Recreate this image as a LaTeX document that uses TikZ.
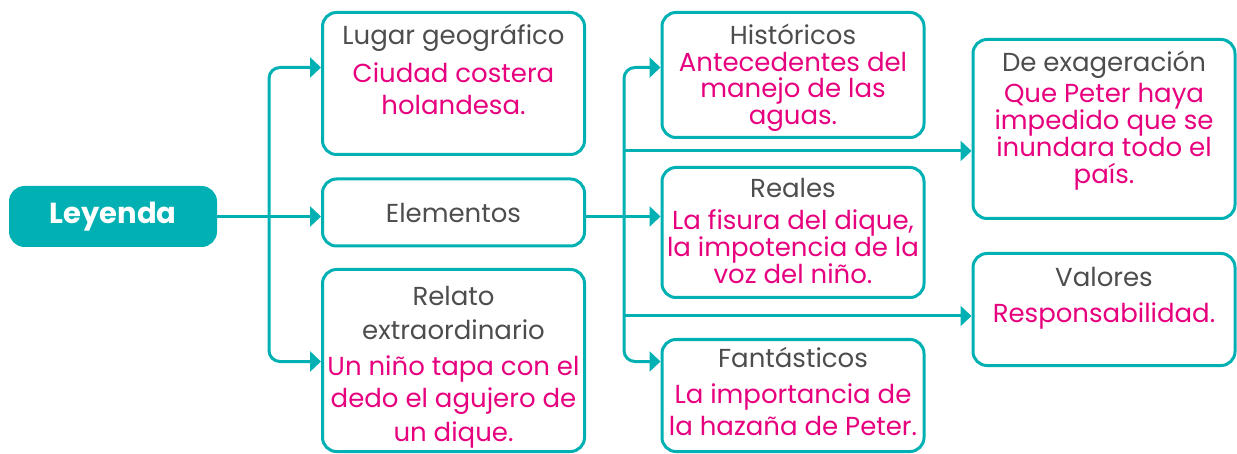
\documentclass[tikz,border=0pt]{standalone}
\usepackage{fontspec}
\setmainfont{Poppins}
\usetikzlibrary{positioning,arrows.meta}
\definecolor{boxcolor}{RGB}{0,176,178}
\definecolor{namecolor}{RGB}{77,77,77}
\definecolor{textcolor}{RGB}{230,0,126}
\newcommand{\tit}[1]{{\color{namecolor}#1}}
\newcommand{\bod}[1]{{\color{textcolor}#1}}
% height, first baseline, line skip, text
\newcommand{\cell}[4]{\parbox[c][#1][t]{131pt}{\centering\fontsize{13pt}{#3}\selectfont\rule{0pt}{#2}#4}}

\begin{document}
\begin{tikzpicture}[%
    x=0.5pt, y=-0.5pt,                         % pixel grid of the reference
    >={Triangle[length=5.5pt,width=10pt]},     % filled arrow tips
    ]
\tikzset{
  base/.style={draw=boxcolor, line width=1.5pt, rounded corners=7pt, inner sep=0pt, align=center,
    font=\fontsize{13pt}{16pt}\selectfont},
  cellbox/.style={base, minimum width=131pt},
  head/.style={base, fill=boxcolor, text=white, font=\bfseries\fontsize{14.5pt}{18pt}\selectfont,
    minimum width=102.5pt, minimum height=29pt},
  link/.style={draw=boxcolor, line width=1.5pt, rounded corners=5.5pt},
}
\useasboundingbox (0,0) rectangle (1237,454);

\node [head] (p0) at (113,216.5) {Leyenda};

\node [cellbox] (p1) at (453.5,83.5) {\cell{71pt}{16.25pt}{16pt}{\tit{Lugar geográfico}\\[3pt]\bod{Ciudad costera\\holandesa.}}};
\node [cellbox, minimum height=33.5pt] (p2) at (453.5,212.5) {\tit{Elementos}};
\node [cellbox] (p3) at (453.5,360.5) {\cell{91pt}{17.75pt}{16.5pt}{\tit{Relato\\[1pt]extraordinario}\\[1pt]\bod{Un niño tapa con el\\dedo el agujero de\\un dique.}}};

\node [cellbox] (p4) at (793,75) {\cell{62.5pt}{16.25pt}{13.25pt}{\tit{Históricos}\\\bod{Antecedentes del\\manejo de las\\aguas.}}};
\node [cellbox] (p5) at (793,232.5) {\cell{65pt}{15.25pt}{13.5pt}{\tit{Reales}\\[2.5pt]\bod{La fisura del dique,\\la impotencia de la\\voz del niño.}}};
\node [cellbox] (p6) at (793,395.5) {\cell{56pt}{13.75pt}{16pt}{\tit{Fantásticos}\\[2pt]\bod{La importancia de\\la hazaña de Peter.}}};

\node [cellbox] (p7) at (1104,129) {\cell{89.5pt}{16.25pt}{13.5pt}{\tit{De exageración}\\[2pt]\bod{Que Peter haya\\impedido que se\\inundara todo el\\país.}}};
\node [cellbox] (p8) at (1104,309.5) {\cell{56pt}{16.75pt}{17.5pt}{\tit{Valores}\\\bod{Responsabilidad.}}};

% connect
\coordinate (b1) at (269,216.5);
\coordinate (b2) at (624,216.5);
\coordinate (a7) at ([yshift=-11pt]p7.west);
\coordinate (a8) at ([yshift=-3.25pt]p8.west);

\draw [link,->] (p0.east) -- (p0.east -| p2.west);
\draw [link,->] (b1) |- ([yshift=-28.25pt]p1.north west);
\draw [link,->] (b1) |- ([yshift=-46.75pt]p3.north west);

\draw [link,->] (p0.east -| p2.east) -- (p0.east -| p5.west);
\draw [link,->] (b2) |- ([yshift=-28.25pt]p4.north west);
\draw [link,->] (b2) |- ([yshift=-11.75pt]p6.north west);
\draw [link,->] (a7 -| b2) -- (a7);
\draw [link,->] (a8 -| b2) -- (a8);

\end{tikzpicture}
\end{document}
